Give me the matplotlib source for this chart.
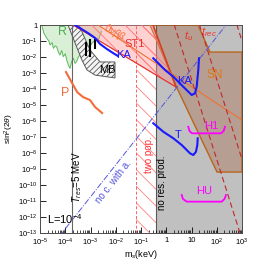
import numpy as np
import matplotlib
matplotlib.use('Agg')
import matplotlib.pyplot as plt

plt.rcParams['font.family'] = ['Liberation Sans', 'DejaVu Sans']
plt.rcParams['mathtext.fontset'] = 'custom'
plt.rcParams['mathtext.rm'] = 'Liberation Sans'
plt.rcParams['mathtext.it'] = 'Liberation Sans:italic'
plt.rcParams['hatch.linewidth'] = 0.6

# --- data (log10 of m_s [keV] and of sin^2(2theta)) ---
r_lm = [-4.93, -4.85, -4.73, -4.65, -4.60, -4.52, -4.47, -4.40, -4.34, -4.27, -4.21, -4.14, -4.08,
        -4.00, -3.94, -3.88, -3.81, -3.75, -3.68, -3.61, -3.55, -3.48, -3.42, -3.35, -3.29, -3.22,
        -3.15, -3.08, -3.02, -2.95, -2.85, -2.75, -2.68, -2.62, -2.56]
r_ls = [0.0, -0.5, -0.83, -1.0, -1.25, -1.1, -1.46, -1.3, -1.36, -1.7, -1.88, -1.6, -1.98,
        -1.8, -2.19, -2.5, -2.71, -2.3, -2.08, -2.4, -2.29, -2.0, -1.88, -2.05, -1.67, -1.8,
        -1.46, -1.6, -1.36, -1.14, -1.0, -0.83, -0.9, -0.625, -0.4]

mb_lm = [-3.89, -3.61, -3.34, -3.14, -2.82, -2.03, -2.03, -2.62, -3.02, -3.42, -3.45]
mb_ls = [0.0, -1.13, -2.19, -2.81, -3.13, -3.31, -2.31, -2.31, -1.56, -0.13, 0.0]

bars_lm = [-3.18, -3.02, -2.82]
bars_lo = [-1.875, -1.94, -1.44]
bars_hi = [-1.125, -0.94, -0.94]

p_lm = [-3.97, -3.73, -3.53, -3.30, -3.02, -2.82, -2.54]
p_ls = [-2.94, -3.625, -4.19, -4.5, -4.69, -5.125, -5.5]

ka1_lm = [-3.61, -3.42, -3.10, -2.82, -2.62, -2.35, -2.11, -1.91]
ka1_ls = [0.0, -0.19, -0.5, -0.81, -1.19, -1.5, -1.75, -1.94]

ka2_lm = [-0.513, -0.05, 0.279, 0.675, 1.008, 1.139, 1.206, 1.269, 1.297]
ka2_ls = [-2.08, -2.81, -3.23, -3.86, -4.375, -4.27, -3.86, -2.81, -2.08]

t_lm = [-0.513, -0.117, 0.279, 0.612, 0.941, 1.071, 1.178, 1.230, 1.246]
t_ls = [-6.14, -6.67, -7.08, -7.5, -8.02, -8.125, -7.92, -7.5, -7.08]

sn_lm = [-0.644, 1.257, 1.733, 3.0, 3.0, 2.010, 0.386]
sn_ls = [0.0, 0.0, -1.69, -1.69, -9.19, -9.19, -3.81]

st1_lm = [-3.69, -0.525, 0.386]
st1_ls = [0.0, 0.0, -3.875]

nbb_lm = [-2.70, 3.0]
nbb_ls = [0.0, -5.94]

# time-scale lines: log sin^2 = c - 5 log m
tu_c = 1.60
trec_c = 6.6
t3_c = 14.0

# no coherence with a.: log sin^2 = c + 2 log m
noc_c = -4.74

t_res_m = 1.85e-4
twopop_m = [0.0617, 0.41]
nores_m = 0.41

h1_lm = [0.873, 0.921, 1.020, 2.168, 2.275, 2.327]
h1_ls = [-6.36, -6.625, -6.77, -6.77, -6.625, -6.36]
hu_lm = [0.612, 0.663, 0.810, 2.196, 2.307, 2.366]
hu_ls = [-10.625, -10.875, -11.04, -11.04, -10.875, -10.625]

xticks = [1e-5, 1e-4, 1e-3, 1e-2, 1e-1, 1, 10, 1e2, 1e3]
xticklabels = ['$10^{-5}$', '$10^{-4}$', '$10^{-3}$', '$10^{-2}$', '$10^{-1}$', '1', '10',
               '$10^{2}$', '$10^{3}$']
yticks = [10.0 ** (-k) for k in range(13, -1, -1)]
yticklabels = ['$10^{-%d}$' % k for k in range(13, 0, -1)] + ['1']


def p10(a):
    return 10.0 ** np.asarray(a)


fig = plt.figure(figsize=(2.69, 2.6), dpi=100)
ax = fig.add_axes([40 / 269, 27 / 260, 202 / 269, 208 / 260])
ax.set_xscale('log')
ax.set_yscale('log')
ax.set_xlim(1e-5, 1e3)
ax.set_ylim(1e-13, 1)

# gray region
ax.axvspan(nores_m, 1e3, color='#c0c0c0', lw=0, zorder=0)
ax.axvline(nores_m, color='0.35', lw=0.8, zorder=1)

# R region
ax.fill(np.r_[p10(r_lm), p10(r_lm[-1])], np.r_[p10(r_ls), 1.0], color='#d9f0d6', lw=0, zorder=1)
ax.plot(p10(r_lm), p10(r_ls), color='#5cb85c', lw=0.7, zorder=2)

# MB hatched
ax.fill(p10(mb_lm), p10(mb_ls), facecolor='#f4f4f4', edgecolor='0.35', hatch='//////', lw=0.7, zorder=2)
for xm, lo, hi in zip(bars_lm, bars_lo, bars_hi):
    ax.plot([10 ** xm, 10 ** xm], [10 ** lo, 10 ** hi], color='k', lw=1.5, zorder=3)

# SN region
ax.fill(p10(sn_lm), p10(sn_ls), facecolor='#a0522d', alpha=0.3, lw=0, zorder=2)
ax.fill(p10(sn_lm), p10(sn_ls), facecolor='none', edgecolor='#b8651b', lw=1.0, zorder=3)

# ST1 region
ax.fill(p10(st1_lm), p10(st1_ls), facecolor='#ff9090', alpha=0.4, lw=0, zorder=3)
ax.fill(p10(st1_lm), p10(st1_ls), facecolor='none', edgecolor='#ff7070', hatch='\\\\', lw=0, zorder=3)
ax.plot(p10(st1_lm[::2]), p10(st1_ls[::2]), color='#e8322f', lw=0.9, zorder=4)
ax.plot(p10(st1_lm[1:]), p10(st1_ls[1:]), color='#d04020', lw=1.2, zorder=4)

# two populations hatch
ax.axvspan(twopop_m[0], twopop_m[1], facecolor='none', edgecolor='#ff8080', hatch='\\\\', lw=0, zorder=3)
ax.axvline(twopop_m[0], color='#ff6060', lw=0.7, ls=(0, (3, 2)), zorder=3)

# 0nbb
ax.plot(p10(nbb_lm), p10(nbb_ls), color='#f07030', lw=0.8, zorder=4)

# time scale dashed lines
mm = np.logspace(-1, 3, 50)
for c in [tu_c, trec_c, t3_c]:
    ax.plot(mm, 10.0 ** (c - 5 * np.log10(mm)), color='#c0282a', lw=0.8, ls=(0, (5, 3)), zorder=4)

# no coherence line
mm2 = np.logspace(-5, 3, 50)
ax.plot(mm2, 10.0 ** (noc_c + 2 * np.log10(mm2)), color='#5555dd', lw=0.7, ls='-.', zorder=4)

# T_res line
ax.axvline(t_res_m, color='0.4', lw=0.8, zorder=4)

# P, KA, T lines
ax.plot(p10(p_lm), p10(p_ls), color='#f26c3c', lw=1.5, zorder=5)
ax.plot(p10(ka1_lm), p10(ka1_ls), color='#1a1aff', lw=1.5, zorder=5)
ax.plot(p10(ka2_lm), p10(ka2_ls), color='#1a1aff', lw=1.5, zorder=5)
ax.plot(p10(t_lm), p10(t_ls), color='#1a1aff', lw=1.5, zorder=5)

# H1, HU brackets
ax.plot(p10(h1_lm), p10(h1_ls), color='#ff00ff', lw=1.3, zorder=5)
ax.plot(p10(hu_lm), p10(hu_ls), color='#ff00ff', lw=1.3, zorder=5)

# labels
ax.text(10 ** -4.09, 10 ** -0.44, 'R', color='#4caf50', fontsize=9, ha='center', va='center', zorder=6)
ax.text(10 ** -2.35, 10 ** -2.81, 'MB', color='k', fontsize=8, ha='center', va='center', zorder=6)
ax.text(10 ** -4.01, 10 ** -4.25, 'P', color='#f26c3c', fontsize=9, ha='center', va='center', zorder=6)
ax.text(10 ** -1.71, 10 ** -1.875, 'KA', color='#1a1aff', fontsize=8, ha='center', va='center', zorder=6)
ax.text(10 ** 0.74, 10 ** -3.5, 'KA', color='#1a1aff', fontsize=8, ha='center', va='center', zorder=6)
ax.text(10 ** 0.47, 10 ** -6.875, 'T', color='#1a1aff', fontsize=8, ha='center', va='center', zorder=6)
ax.text(10 ** -1.24, 10 ** -1.19, 'ST1', color='#e8322f', fontsize=8, ha='center', va='center', zorder=6)
ax.text(10 ** -2.03, 10 ** -0.5, r'0$\nu\beta\beta$', color='#f07030', fontsize=7, rotation=-30,
        ha='center', va='center', zorder=6)
ax.text(10 ** 1.93, 10 ** -3.125, 'SN', color='#e07818', fontsize=8.5, ha='center', va='center', zorder=6)
ax.text(10 ** 0.9, 10 ** -0.69, '$t_u$', color='#e8322f', fontsize=8, ha='center', va='center', zorder=6)
ax.text(10 ** 1.69, 10 ** -0.44, '$t_{rec}$', color='#e8322f', fontsize=8, ha='center', va='center', zorder=6)
ax.text(10 ** 1.77, 10 ** -6.31, 'H1', color='#ff00ff', fontsize=8, ha='center', va='center', zorder=6)
ax.text(10 ** 1.5, 10 ** -10.375, 'HU', color='#ff00ff', fontsize=8, ha='center', va='center', zorder=6)
ax.text(10 ** -0.68, 10 ** -8.125, 'two pop.', color='#ff3030', fontsize=7, rotation=90,
        ha='center', va='center', zorder=6)
ax.text(10 ** -0.17, 10 ** -9.875, 'no res. prod.', color='k', fontsize=7, rotation=90,
        ha='center', va='center', zorder=6)
ax.text(10 ** -3.53, 10 ** -9.5, '$T_{res}$=5 MeV', color='k', fontsize=7, rotation=90,
        ha='center', va='center', zorder=6)
ax.text(10 ** -2.1, 10 ** -9.8, 'no c. with a.', color='#5555dd', fontsize=7, rotation=52,
        ha='center', va='center', zorder=6)
ax.text(10 ** -4.72, 10 ** -12.1, 'L=10$^{-4}$', color='k', fontsize=8, ha='left', va='center', zorder=6)

ax.set_xticks(xticks)
ax.set_xticklabels(xticklabels)
ax.set_yticks(yticks)
ax.set_yticklabels(yticklabels)
ax.tick_params(which='both', direction='in', labelsize=5.5, top=False, right=False, pad=2)
ax.tick_params(axis='x', which='major', pad=3)
ax.tick_params(which='major', length=4, width=0.6)
ax.tick_params(which='minor', length=2, width=0.5)
for s in ax.spines.values():
    s.set_linewidth(0.7)
    s.set_color('0.3')

ax.set_xlabel('m$_s$(keV)', fontsize=6.5, labelpad=0)
ax.set_ylabel(r'sin$^2$(2$\theta$)', fontsize=6, labelpad=1)

fig.savefig('out.png', dpi=100)
